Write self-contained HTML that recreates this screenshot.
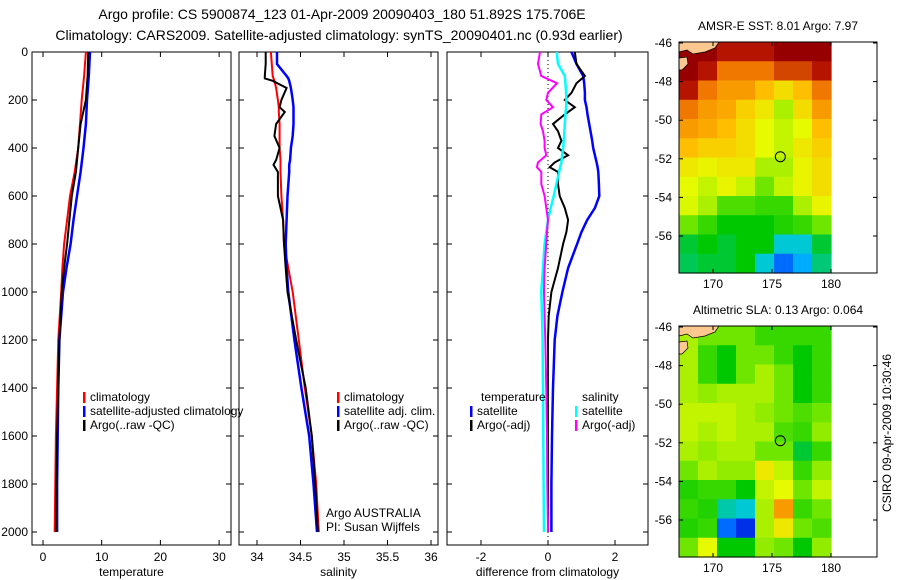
<!DOCTYPE html>
<html><head><meta charset="utf-8"><style>
html,body{margin:0;padding:0;background:#fff;}
svg{display:block;font-family:"Liberation Sans",sans-serif;}
text{font-size:12px;fill:#000;}
</style></head><body>
<svg id="c" width="900" height="580" viewBox="0 0 900 580" xmlns="http://www.w3.org/2000/svg">
<text x="342" y="19" text-anchor="middle" style="font-size:14px">Argo profile: CS 5900874_123 01-Apr-2009 20090403_180 51.892S 175.706E</text>
<text x="339" y="40" text-anchor="middle" style="font-size:14px">Climatology: CARS2009. Satellite-adjusted climatology: synTS_20090401.nc (0.93d earlier)</text>
<g id="g"></g>
</svg>
<script>
// ---- data ----
const tDepth=[0,100,200,300,400,500,600,700,800,900,1000,1200,1400,1600,1800,2000];
const tempClim=[7.3,7.0,6.6,6.3,6.0,5.4,4.6,4.1,3.6,3.3,3.1,2.6,2.4,2.2,2.1,2.0];
const tempSat=[8.0,7.8,7.5,7.3,6.9,6.4,5.8,5.2,4.7,4.0,3.4,2.8,2.6,2.5,2.4,2.4];
const tempArgo=[7.7,7.6,7.3,6.4,6.0,5.6,4.9,4.5,4.1,3.6,3.2,2.8,2.6,2.4,2.3,2.2];
const sDepth=[0,50,100,110,120,150,200,230,250,300,350,400,450,470,500,600,700,800,900,1000,1200,1400,1600,1800,2000];
const salClim=[34.16,34.17,34.18,34.19,34.2,34.22,34.24,34.25,34.25,34.26,34.26,34.26,34.27,34.27,34.27,34.28,34.3,34.31,34.36,34.41,34.48,34.55,34.63,34.68,34.71];
const salSat=[34.23,34.23,34.34,34.36,34.37,34.39,34.41,34.42,34.42,34.42,34.41,34.39,34.38,34.37,34.37,34.35,34.34,34.33,34.34,34.36,34.43,34.51,34.6,34.65,34.69];
const salArgo=[34.10,34.10,34.09,34.09,34.18,34.34,34.28,34.26,34.32,34.22,34.2,34.26,34.22,34.19,34.24,34.24,34.3,34.31,34.33,34.35,34.45,34.56,34.63,34.67,34.70];
const dDepth=[0,50,100,130,170,200,230,260,300,330,370,400,430,460,480,500,550,600,650,700,750,800,900,1000,1100,1200,1400,1600,1800,2000];
const dTempSat=[0.7,0.85,1.05,1.08,1.1,1.1,1.15,1.18,1.23,1.27,1.32,1.35,1.4,1.45,1.48,1.5,1.52,1.53,1.4,1.17,1.0,0.87,0.6,0.43,0.28,0.2,0.15,0.12,0.1,0.1];
const dTempArgo=[0.8,0.85,1.1,0.85,0.7,0.5,0.8,0.5,0.15,0.3,0.4,0.3,0.6,0.2,0.05,0.3,0.3,0.35,0.5,0.6,0.55,0.45,0.3,0.1,0.02,0.0,0.0,0.0,0.0,0.0];
const dSalSat=[0.26,0.3,0.5,0.52,0.54,0.55,0.54,0.52,0.5,0.49,0.47,0.45,0.42,0.4,0.36,0.33,0.25,0.17,0.08,0.0,-0.05,-0.1,-0.15,-0.2,-0.18,-0.16,-0.15,-0.14,-0.13,-0.12];
const dSalArgo=[-0.24,-0.3,-0.2,0.27,0.0,-0.05,0.15,-0.2,-0.22,-0.15,-0.1,-0.1,-0.05,-0.3,-0.33,-0.2,-0.2,-0.1,-0.05,0.0,-0.03,-0.05,-0.1,-0.12,-0.1,-0.08,-0.05,-0.03,-0.02,0.0];
const depthTicks=[0,200,400,600,800,1000,1200,1400,1600,1800,2000];
const tempTicks=[0,10,20,30];
const salTicks=[34,34.5,35,35.5,36];
const salTickLabels=["34","34.5","35","35.5","36"];
const diffTicks=[-2,0,2];
const sstGrid=[
[1,1,0.95,0.95,0.95,1,1,1],
[1,0.95,0.85,0.85,0.85,0.9,0.9,0.95],
[0.95,0.85,0.8,0.8,0.75,0.7,0.75,0.85],
[0.85,0.8,0.78,0.72,0.68,0.6,0.7,0.8],
[0.8,0.78,0.75,0.7,0.65,0.62,0.65,0.75],
[0.75,0.72,0.72,0.7,0.65,0.62,0.68,0.72],
[0.68,0.66,0.68,0.68,0.6,0.6,0.66,0.7],
[0.65,0.62,0.66,0.62,0.55,0.62,0.66,0.7],
[0.64,0.6,0.52,0.52,0.5,0.5,0.6,0.66],
[0.55,0.5,0.45,0.45,0.45,0.48,0.5,0.55],
[0.42,0.45,0.42,0.45,0.45,0.3,0.3,0.42],
[0.4,0.42,0.42,0.45,0.3,0.15,0.22,0.38]];
const slaGrid=[
[0.6,0.55,0.55,0.55,0.5,0.5,0.5,0.5],
[0.6,0.5,0.45,0.55,0.55,0.5,0.45,0.5],
[0.6,0.5,0.45,0.55,0.6,0.55,0.45,0.5],
[0.6,0.58,0.6,0.6,0.6,0.55,0.45,0.5],
[0.62,0.62,0.62,0.6,0.58,0.55,0.52,0.55],
[0.62,0.6,0.62,0.6,0.6,0.52,0.5,0.58],
[0.6,0.58,0.6,0.6,0.55,0.55,0.42,0.5],
[0.55,0.6,0.58,0.58,0.68,0.62,0.5,0.58],
[0.48,0.5,0.5,0.45,0.62,0.65,0.55,0.62],
[0.5,0.48,0.35,0.3,0.6,0.8,0.5,0.55],
[0.48,0.5,0.15,0.08,0.6,0.68,0.55,0.52],
[0.55,0.65,0.45,0.45,0.58,0.55,0.45,0.58]];
const latTicks=[-46,-48,-50,-52,-54,-56];
const lonTicks=[170,175,180];
const argoLon=175.706, argoLat=-51.892;

// ---- drawing ----
const NS='http://www.w3.org/2000/svg';
const G=document.getElementById('g');
function el(tag,attrs,parent){const e=document.createElementNS(NS,tag);for(const k in attrs)e.setAttribute(k,attrs[k]);(parent||G).appendChild(e);return e;}
const yD=d=>52+0.24*d;
const TOP=52,BOT=545;
function panel(name,x0,x1,xs,ticks,labels,xlabel,showY){
  const g=el('g',{});
  
  
  const r=el('rect',{x:x0,y:TOP,width:x1-x0,height:BOT-TOP,fill:'none',stroke:'#000','stroke-width':1},g);
  
  
  ticks.forEach((t,i)=>{const x=xs(t);
    el('line',{x1:x,x2:x,y1:BOT,y2:BOT-5,stroke:'#000'},g);
    el('line',{x1:x,x2:x,y1:TOP,y2:TOP+5,stroke:'#000'},g);
    const tx=el('text',{x:x,y:561,'text-anchor':'middle'},g);tx.textContent=labels[i];
    
    
  });
  depthTicks.forEach(d=>{const y=yD(d);
    el('line',{x1:x0,x2:x0+5,y1:y,y2:y,stroke:'#000'},g);
    el('line',{x1:x1,x2:x1-5,y1:y,y2:y,stroke:'#000'},g);
    if(showY){const tx=el('text',{x:28,y:y+4,'text-anchor':'end'},g);tx.textContent=d;
      
      }
  });
  const xl=el('text',{x:(x0+x1)/2,y:576,'text-anchor':'middle'},g);xl.textContent=xlabel;
  
  
  return g;
}
function line(g,name,depths,vals,xs,color,w){
  const pts=depths.map((d,i)=>xs(vals[i]).toFixed(1)+','+yD(d).toFixed(1)).join(' ');
  const p=el('polyline',{points:pts,fill:'none',stroke:color,'stroke-width':w||2},g);
  
  
}
function legend(g,x,y,color,label){
  el('rect',{x:x,y:y-9,width:2.5,height:11,fill:color},g);
  const t=el('text',{x:x+7,y:y},g);t.textContent=label;
  
  
}
// panel 1
const xT=v=>43+5.87*v;
const p1=panel('temperature-panel',32,231,xT,tempTicks,tempTicks.map(String),'temperature',true);
line(p1,'temp-climatology-line',tDepth,tempClim,xT,'#f00');
line(p1,'temp-satellite-line',tDepth,tempSat,xT,'#00f',2.5);
line(p1,'temp-argo-line',tDepth,tempArgo,xT,'#000');
legend(p1,83,401,'#f00','climatology');
legend(p1,83,415,'#00f','satellite-adjusted climatology');
legend(p1,83,429,'#000','Argo(..raw -QC)');
// panel 2
const xS=v=>257+87*(v-34);
const p2=panel('salinity-panel',239,438,xS,salTicks,salTickLabels,'salinity',false);
line(p2,'sal-climatology-line',sDepth,salClim,xS,'#f00');
line(p2,'sal-satellite-line',sDepth,salSat,xS,'#00f',2.5);
line(p2,'sal-argo-line',sDepth,salArgo,xS,'#000');
legend(p2,337,401,'#f00','climatology');
legend(p2,337,415,'#00f','satellite adj. clim.');
legend(p2,337,429,'#000','Argo(..raw -QC)');
const a1=el('text',{x:326,y:517},p2);a1.textContent='Argo AUSTRALIA';


const a2=el('text',{x:326,y:531},p2);a2.textContent='PI: Susan Wijffels';


// panel 3
const xDf=v=>548+33.5*v;
const p3=panel('difference-panel',447,648,xDf,diffTicks,diffTicks.map(String),'difference from climatology',false);
el('line',{x1:xDf(0),x2:xDf(0),y1:TOP,y2:BOT,stroke:'#000','stroke-dasharray':'1,3'},p3);
line(p3,'diff-temp-satellite-line',dDepth,dTempSat,xDf,'#00f',2.5);
line(p3,'diff-temp-argo-line',dDepth,dTempArgo,xDf,'#000');
line(p3,'diff-sal-satellite-line',dDepth,dSalSat,xDf,'#0ff',2.5);
line(p3,'diff-sal-argo-line',dDepth,dSalArgo,xDf,'#f0f');
const lt=el('text',{x:481,y:401},p3);lt.textContent='temperature';


legend(p3,470,415,'#00f','satellite');
legend(p3,470,429,'#000','Argo(-adj)');
const ls=el('text',{x:582,y:401},p3);ls.textContent='salinity';


legend(p3,575,415,'#0ff','satellite');
legend(p3,575,429,'#f0f','Argo(-adj)');

// maps
function jet(v){
  const st=[[0,[0,0,140]],[0.1,[0,60,255]],[0.25,[0,200,255]],[0.35,[0,200,170]],[0.45,[0,200,0]],[0.55,[110,230,0]],[0.65,[230,250,0]],[0.75,[255,190,0]],[0.85,[240,120,0]],[0.95,[180,20,0]],[1,[150,0,0]]];
  v=Math.max(0,Math.min(1,v));
  for(let i=1;i<st.length;i++){if(v<=st[i][0]){const a=st[i-1],b=st[i],f=(v-a[0])/(b[0]-a[0]);
    return 'rgb('+a[1].map((c,k)=>Math.round(c+f*(b[1][k]-c))).join(',')+')';}}
  return 'rgb(150,0,0)';
}
function map(name,top,grid,title){
  const g=el('g',{});
  
  
  const x0=679,x1=877,bot=top+231;
  const lonX=l=>713+11.8*(l-170);
  const latY=l=>top+1+19.3*(-46-l);
  const cw=(lonX(180)-x0)/grid[0].length, ch=(bot-top)/grid.length;
  grid.forEach((row,r)=>row.forEach((v,c)=>{
    const cell=el('rect',{x:(x0+c*cw).toFixed(2),y:(top+r*ch).toFixed(2),width:(cw+0.6).toFixed(2),height:(ch+0.6).toFixed(2),fill:jet(v)},g);
    
    
  }));
  const land=el('path',{d:`M${x0} ${top} L${x0+40} ${top} L${x0+36} ${top+6} L${x0+26} ${top+10} L${x0+14} ${top+12} L${x0+8} ${top+8} L${x0} ${top+10} Z M${x0} ${top+16} L${x0+8} ${top+15} L${x0+9} ${top+22} L${x0+3} ${top+28} L${x0} ${top+28} Z`,fill:'#fcc890',stroke:'#000','stroke-width':0.7},g);
  
  
  const cir=el('circle',{cx:lonX(argoLon),cy:latY(argoLat),r:5,fill:'none',stroke:'#000','stroke-width':1},g);
  
  
  el('rect',{x:x0,y:top,width:x1-x0,height:bot-top,fill:'none',stroke:'#000'},g);
  latTicks.forEach(l=>{const y=latY(l);
    el('line',{x1:x0,x2:x0+4,y1:y,y2:y,stroke:'#000'},g);
    el('line',{x1:x1,x2:x1-4,y1:y,y2:y,stroke:'#000'},g);
    const t=el('text',{x:672,y:y+4,'text-anchor':'end'},g);t.textContent=l;
    
    });
  lonTicks.forEach(l=>{const x=lonX(l);
    el('line',{x1:x,x2:x,y1:bot,y2:bot-4,stroke:'#000'},g);
    el('line',{x1:x,x2:x,y1:top,y2:top+4,stroke:'#000'},g);
    const t=el('text',{x:x,y:bot+15,'text-anchor':'middle'},g);t.textContent=l;
    
    });
  const tt=el('text',{x:778,y:top-12,'text-anchor':'middle'},g);tt.textContent=title;
  
  
}
map('sst-map',42,sstGrid,'AMSR-E SST: 8.01  Argo: 7.97');
map('sla-map',326,slaGrid,'Altimetric SLA: 0.13  Argo: 0.064');
const cs=el('text',{x:0,y:0,'text-anchor':'middle',transform:'translate(891,433) rotate(-90)'});
cs.textContent='CSIRO 09-Apr-2009 10:30:46';


</script>
</body></html>
